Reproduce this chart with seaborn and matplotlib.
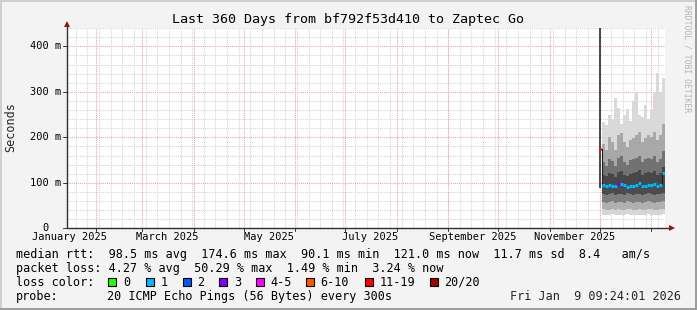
import numpy as np
import pandas as pd
import matplotlib
matplotlib.use("Agg")
import matplotlib.pyplot as plt
import matplotlib.dates as mdates
import matplotlib.transforms as mtrans
from matplotlib.patches import Rectangle
import seaborn as sns

# ---------------- data ----------------
title = "Last 360 Days from bf792f53d410 to Zaptec Go"
t_start = pd.Timestamp("2025-01-14 09:24:01")
t_end = pd.Timestamp("2026-01-09 09:24:01")

# first sample (heavy loss, wide spread)
first_time = pd.Timestamp("2025-12-01 12:00")
first_low, first_high, first_median = 88.0, 441.0, 174.6

# smoke columns (ms), bottom -> top
col_edges = pd.date_range("2025-12-02 06:00", "2026-01-09 09:24", periods=22)
q_min = [30, 29, 30, 31, 29, 30, 29, 30, 31, 30, 29, 30, 30, 29, 30, 31, 30, 29, 30, 30, 31]
q_10 = [42, 40, 41, 43, 40, 42, 41, 40, 43, 42, 40, 41, 42, 40, 41, 43, 42, 40, 41, 42, 43]
q_25 = [58, 56, 57, 60, 55, 58, 57, 56, 60, 58, 56, 57, 58, 56, 57, 60, 58, 56, 57, 58, 60]
q_40 = [76, 74, 75, 78, 73, 76, 75, 74, 78, 76, 74, 75, 76, 74, 75, 78, 76, 74, 75, 76, 78]
q_60 = [118, 115, 122, 120, 112, 124, 126, 118, 114, 120, 121, 124, 128, 118, 121, 124, 122, 126, 118, 122, 135]
q_75 = [145, 138, 152, 148, 136, 155, 158, 146, 140, 150, 152, 155, 160, 146, 152, 155, 152, 158, 146, 152, 170]
q_90 = [185, 172, 200, 190, 172, 205, 210, 190, 178, 195, 198, 205, 212, 190, 198, 205, 200, 212, 195, 205, 230]
q_max = [234, 227, 250, 240, 286, 264, 230, 250, 262, 235, 280, 300, 250, 245, 270, 240, 260, 300, 341, 300, 330]
median = [95, 93, 96, 94, 92, 97, 98, 95, 90, 93, 94, 96, 99, 93, 94, 96, 95, 97, 92, 95, 121]
loss_cat = [1, 1, 1, 1, 1, 3, 1, 1, 1, 1, 1, 1, 1, 1, 1, 1, 1, 1, 1, 1, 1]
first_loss_cat = 6

loss_labels = ["0", "1", "2", "3", "4-5", "6-10", "11-19", "20/20"]
loss_colors = ["#26ff00", "#00b8ff", "#0059ff", "#7e00ff", "#ff00ff", "#ff5500", "#ff0000", "#a10000"]

ytick_vals = [0, 100, 200, 300, 400]
ytick_labels = ["0", "100 m", "200 m", "300 m", "400 m"]
month_labels = ["January 2025", "March 2025", "May 2025", "July 2025", "September 2025", "November 2025"]
month_label_dates = ["2025-01-16", "2025-03-16", "2025-05-16", "2025-07-16", "2025-09-16", "2025-11-16"]

legend_line1 = "median rtt:  98.5 ms avg  174.6 ms max  90.1 ms min  121.0 ms now  11.7 ms sd  8.4   am/s"
legend_line2 = "packet loss: 4.27 % avg  50.29 % max  1.49 % min  3.24 % now"
probe_text = "20 ICMP Echo Pings (56 Bytes) every 300s"
date_text = "Fri Jan  9 09:24:01 2026"

# ---------------- figure ----------------
W, H = 697, 310
sns.set_theme(style="white")
plt.rcParams["font.family"] = ["DejaVu Sans Mono"]

fig = plt.figure(figsize=(W / 100, H / 100), dpi=100)
fig.patch.set_facecolor("#f3f3f3")


def px_rect(x, y, w, h, color):
    fig.patches.append(Rectangle((x / W, 1 - (y + h) / H), w / W, h / H,
                                 transform=fig.transFigure, color=color, lw=0, zorder=0))


px_rect(0, 0, W, 2, "#cfcfcf")
px_rect(0, 0, 2, H, "#cfcfcf")
px_rect(0, H - 2, W, 2, "#9e9e9e")
px_rect(W - 2, 0, 2, H, "#9e9e9e")

ax_left, ax_right, ax_top, ax_bottom = 66.5, 665.0, 28.1, 228.3
ax = fig.add_axes([ax_left / W, 1 - ax_bottom / H, (ax_right - ax_left) / W, (ax_bottom - ax_top) / H])
ax.set_facecolor("white")
x0, x1 = mdates.date2num(t_start), mdates.date2num(t_end)
ax.set_xlim(x0, x1)
ax.set_ylim(0, 440)
for s in ax.spines.values():
    s.set_visible(False)

# grid
dot = (0, (1, 1))
for yv in np.arange(20, 441, 20):
    major = yv % 100 == 0
    ax.axhline(yv, color="#f0a0a0" if major else "#d4d4d4", lw=0.75, ls=dot, zorder=1)
weeks = pd.date_range("2025-01-20", t_end, freq="7D")
for d in weeks:
    ax.axvline(mdates.date2num(d), color="#d4d4d4", lw=0.75, ls=dot, zorder=1)
months = pd.date_range("2025-02-01", t_end, freq="MS")
for d in months:
    ax.axvline(mdates.date2num(d), color="#f0a0a0", lw=0.75, ls=dot, zorder=1)

# smoke
xe = mdates.date2num(col_edges)
bands = [q_min, q_10, q_25, q_40, median, q_60, q_75, q_90, q_max]
band_colors = ["#d6d6d6", "#b0b0b0", "#7e7e7e", "#4c4c4c", "#474747", "#727272", "#a8a8a8", "#d9d9d9"]
for lo, hi, c in zip(bands[:-1], bands[1:], band_colors):
    ax.fill_between(xe, list(lo) + [lo[-1]], list(hi) + [hi[-1]], step="post", color=c, lw=0, zorder=2)

# first heavy-loss column
fx = mdates.date2num(first_time)
ax.fill_between([fx - 0.6, fx + 0.6], [first_low] * 2, [first_high] * 2, color="#4a4a4a", lw=0, zorder=3)

# thin median line
med_df = pd.DataFrame({"t": [first_time] + list(col_edges[:-1]) + [col_edges[-1]],
                       "ms": [first_median] + median + [median[-1]]})
med_df["t"] = mdates.date2num(med_df["t"])
sns.lineplot(data=med_df, x="t", y="ms", drawstyle="steps-post", color="#202020", lw=0.8, ax=ax, zorder=4)

# coloured median segments
ax.hlines(first_median, fx - 0.6, fx + 0.6, color=loss_colors[first_loss_cat], lw=2.2, zorder=5)
for i in range(len(median)):
    ax.hlines(median[i], xe[i], xe[i + 1], color=loss_colors[loss_cat[i]], lw=2.2, zorder=5)

ax.set_xticks([])
ax.set_yticks([])
ax.set_xlabel("")
ax.set_ylabel("")

# axes lines with arrows
ax.plot([0, 1.012], [0, 0], transform=ax.transAxes, color="#303030", lw=1, clip_on=False, zorder=6)
ax.plot([0, 0], [0, 1.02], transform=ax.transAxes, color="#303030", lw=1, clip_on=False, zorder=6)
ax.plot([1.012], [0], transform=ax.transAxes, marker=">", ms=4.5, color="#8b1a1a", mew=0, clip_on=False, zorder=7)
ax.plot([0], [1.02], transform=ax.transAxes, marker="^", ms=4.5, color="#8b1a1a", mew=0, clip_on=False, zorder=7)

# small tick marks
btr = mtrans.blended_transform_factory(ax.transData, ax.transAxes)
for d in months:
    ax.plot([mdates.date2num(d)] * 2, [0, -0.012], transform=btr, color="#303030", lw=0.7, clip_on=False)
ltr = mtrans.blended_transform_factory(ax.transAxes, ax.transData)
for yv in ytick_vals:
    ax.plot([-0.006, 0], [yv, yv], transform=ltr, color="#303030", lw=0.7, clip_on=False)

# y tick labels (right aligned at the unit column)
char_axis = 6.23
for yv, lab in zip(ytick_vals, ytick_labels):
    xr = 61.0 - (0 if lab.endswith("m") else 2 * char_axis)
    yp = 1 - (ax_bottom - yv * (ax_bottom - ax_top) / 440) / H
    fig.text(xr / W, yp, lab, ha="right", va="center", fontsize=7.45, color="#000000")

# x tick labels
for lab, d in zip(month_labels, month_label_dates):
    ax.text(mdates.date2num(pd.Timestamp(d)), -0.045, lab, transform=btr, ha="center", va="center",
            fontsize=7.45, color="#000000", clip_on=False)

# title, unit, watermark
fig.text(348 / W, 1 - 19 / H, title, ha="center", va="center", fontsize=9.6, color="#000000")
fig.text(10.7 / W, 1 - 127.5 / H, "Seconds", rotation=90, ha="center", va="center", fontsize=8.5)
fig.text(687.5 / W, 1 - 59 / H, "RRDTOOL / TOBI OETIKER", rotation=270, ha="center", va="center",
         fontsize=5.8, color="#b4b4b4")


def ptext(x, y, s, **kw):
    fig.text(x / W, 1 - y / H, s, va="center", fontsize=8.5, color="#000000", **kw)


ptext(16, 254.3, legend_line1)
ptext(16, 268.3, legend_line2)

ptext(16, 282.3, "loss color:")
box_x = [108.3, 145.7, 182.7, 219.3, 256.3, 306.0, 365.0, 430.0]
for bx, lab, c in zip(box_x, loss_labels, loss_colors):
    fig.patches.append(Rectangle((bx / W, 1 - 286.3 / H), 8 / W, 8 / H, transform=fig.transFigure,
                                 facecolor=c, edgecolor="black", lw=0.8))
    ptext(bx + 14.5, 282.3, lab)

ptext(16, 296.3, "probe:")
ptext(107.3, 296.3, probe_text)
fig.text(681 / W, 1 - 296.3 / H, date_text, ha="right", va="center", fontsize=8.5)

fig.savefig("out.png", dpi=100, facecolor=fig.get_facecolor())
